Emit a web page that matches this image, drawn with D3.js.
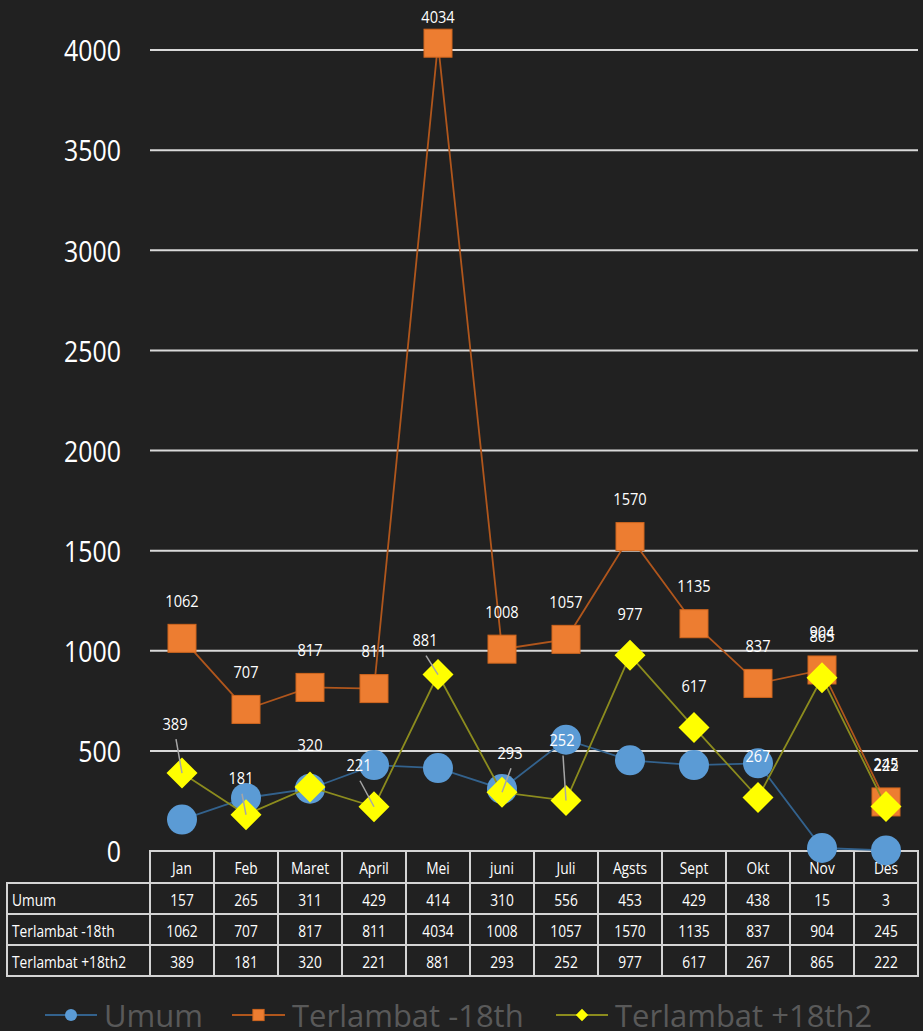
<!DOCTYPE html>
<html>
<head>
<meta charset="utf-8">
<script src="https://cdn.jsdelivr.net/npm/d3@7"></script>
<style>
  html, body { margin: 0; padding: 0; background: #212121; }
  svg { display: block; }
  text { font-family: "Open Sans", "Noto Sans", sans-serif; }
</style>
</head>
<body>
<div id="chart"></div>
<script>
// ---- data ----
const categories = ["Jan", "Feb", "Maret", "April", "Mei", "juni", "Juli", "Agsts", "Sept", "Okt", "Nov", "Des"];
const seriesNames = ["Umum", "Terlambat -18th", "Terlambat +18th2"];
const umum = [157, 265, 311, 429, 414, 310, 556, 453, 429, 438, 15, 3];
const terlambatMinus = [1062, 707, 817, 811, 4034, 1008, 1057, 1570, 1135, 837, 904, 245];
const terlambatPlus = [389, 181, 320, 221, 881, 293, 252, 977, 617, 267, 865, 222];
const yTicks = [0, 500, 1000, 1500, 2000, 2500, 3000, 3500, 4000];

// ---- layout ----
const W = 923, H = 1031;
const plotL = 150, plotR = 918, plotT = 50, plotB = 851;
const rowH = 31;
const tableL = 7;
const sx = 0.86; // horizontal text squeeze

const svg = d3.select("#chart").append("svg").attr("width", W).attr("height", H);
svg.append("rect").attr("width", W).attr("height", H).attr("fill", "#212121");

const x = d3.scaleBand().domain(categories).range([plotL, plotR]).padding(0);
const y = d3.scaleLinear().domain([0, 4000]).range([plotB, plotT]);
const cx = c => x(c) + x.bandwidth() / 2;

function label(g, tx, ty, str, opts) {
  const t = g.append("text")
    .attr("transform", `translate(${tx},${ty}) scale(${opts.sx || sx},1)`)
    .attr("text-anchor", opts.anchor || "middle")
    .attr("dominant-baseline", "central")
    .attr("font-size", opts.size)
    .attr("fill", opts.fill || "#ffffff")
    .text(str);
  return t;
}

// gridlines
const grid = svg.append("g");
yTicks.filter(v => v > 0).forEach(v => {
  grid.append("line").attr("x1", plotL).attr("x2", plotR)
    .attr("y1", y(v)).attr("y2", y(v))
    .attr("stroke", "#d9d9d9").attr("stroke-width", 2);
});

// y axis labels
const yAxisG = svg.append("g");
yTicks.forEach(v => label(yAxisG, 121, y(v), String(v), { size: 29, anchor: "end", fill: "#ffffff" }));

// ---- table ----
const tbl = svg.append("g");
const border = "#d4d4d4";
categories.forEach(c => {
  tbl.append("rect").attr("x", x(c)).attr("y", plotB).attr("width", x.bandwidth()).attr("height", rowH + 1)
    .attr("fill", "none").attr("stroke", border).attr("stroke-width", 2);
  label(tbl, cx(c), plotB + 17, c, { size: 16 });
});
const tableRows = [umum, terlambatMinus, terlambatPlus];
tableRows.forEach((vals, r) => {
  const ry = plotB + rowH + 1 + r * rowH;
  tbl.append("rect").attr("x", tableL).attr("y", ry).attr("width", plotL - tableL).attr("height", rowH)
    .attr("fill", "none").attr("stroke", border).attr("stroke-width", 2);
  label(tbl, 12, ry + rowH / 2 + 1, seriesNames[r], { size: 16, anchor: "start" });
  categories.forEach((c, i) => {
    tbl.append("rect").attr("x", x(c)).attr("y", ry).attr("width", x.bandwidth()).attr("height", rowH)
      .attr("fill", "none").attr("stroke", border).attr("stroke-width", 2);
    label(tbl, cx(c), ry + rowH / 2 + 1, String(vals[i]), { size: 16 });
  });
});

// ---- series ----
const series = [
  { name: seriesNames[0], vals: umum, line: "#33628d", fill: "#5b9bd5", shape: "circle" },
  { name: seriesNames[1], vals: terlambatMinus, line: "#b0561c", fill: "#ed7d31", shape: "square" },
  { name: seriesNames[2], vals: terlambatPlus, line: "#8c8c1e", fill: "#ffff00", shape: "diamond" }
];

const lineGen = d3.line().x((d, i) => cx(categories[i])).y(d => y(d));

function drawMarker(g, shape, px, py, fill, s) {
  if (shape === "circle") {
    g.append("circle").attr("cx", px).attr("cy", py).attr("r", 15 * s).attr("fill", fill);
  } else if (shape === "square") {
    g.append("rect").attr("x", px - 14 * s).attr("y", py - 14 * s).attr("width", 28 * s).attr("height", 28 * s)
      .attr("fill", fill).attr("stroke", "#d0661e").attr("stroke-width", 1);
  } else {
    const r = 15.5 * s;
    g.append("path").attr("d", `M${px},${py - r}L${px + r},${py}L${px},${py + r}L${px - r},${py}Z`).attr("fill", fill);
  }
}

const marksG = svg.append("g");
series.forEach(s => {
  marksG.append("path").attr("d", lineGen(s.vals)).attr("fill", "none")
    .attr("stroke", s.line).attr("stroke-width", 1.8);
  s.vals.forEach((v, i) => drawMarker(marksG, s.shape, cx(categories[i]), y(v), s.fill, 1));
});

// ---- data labels ----
const lblG = svg.append("g");
// orange labels above markers
terlambatMinus.forEach((v, i) => {
  label(lblG, cx(categories[i]), Math.max(y(v) - 38, 17), String(v), { size: 17 });
});
// yellow labels: offsets relative to marker (label placement only)
const plusLabelOffset = [[-7, -50], [-5, -37], [0, -42], [-15, -42], [-13, -35], [8, -40], [-4, -61], [0, -42], [0, -42], [0, -42], [0, -42], [0, -42]];
const plusLeader = [true, true, false, true, true, true, true, false, false, false, false, false];
terlambatPlus.forEach((v, i) => {
  const mx = cx(categories[i]), my = y(v);
  const lx = mx + plusLabelOffset[i][0], ly = my + plusLabelOffset[i][1];
  if (plusLeader[i]) {
    lblG.append("line").attr("x1", lx + 1).attr("y1", ly + 16).attr("x2", mx).attr("y2", my)
      .attr("stroke", "#a6a6a6").attr("stroke-width", 1.5);
  }
  label(lblG, lx, ly, String(v), { size: 17 });
});

// ---- legend ----
const leg = svg.append("g");
const legendItems = [
  { x1: 45, x2: 97, tx: 104 },
  { x1: 232, x2: 285, tx: 292 },
  { x1: 556, x2: 608, tx: 615 }
];
const legY = 1015;
series.forEach((s, k) => {
  const it = legendItems[k];
  leg.append("line").attr("x1", it.x1).attr("x2", it.x2).attr("y1", legY).attr("y2", legY)
    .attr("stroke", s.line).attr("stroke-width", 2);
  drawMarker(leg, s.shape, (it.x1 + it.x2) / 2, legY, s.fill, 0.4);
  label(leg, it.tx, legY, s.name, { size: 31, anchor: "start", fill: "#595959", sx: 1.0 });
});
</script>
</body>
</html>
